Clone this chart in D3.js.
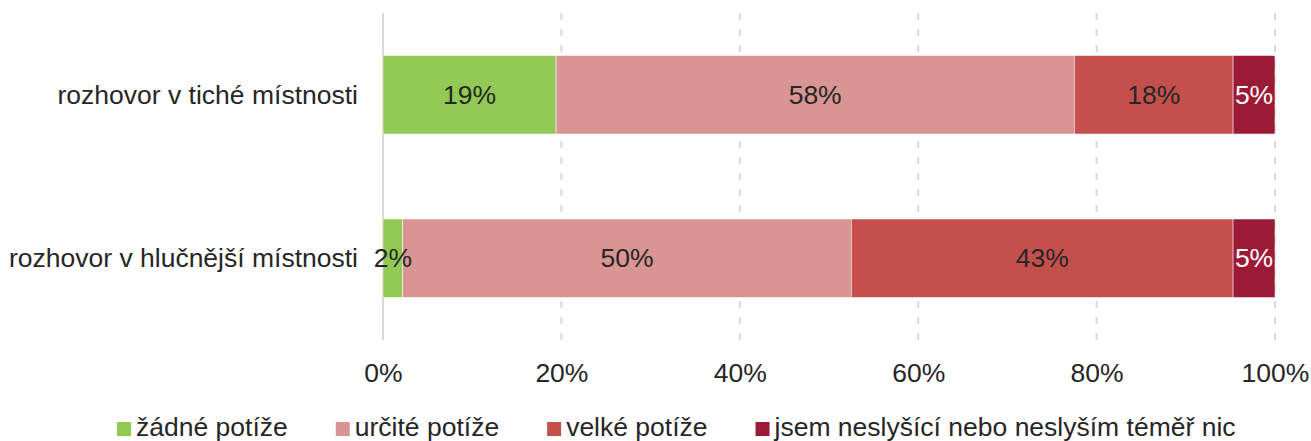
<!DOCTYPE html>
<html><head><meta charset="utf-8">
<script src="https://cdn.jsdelivr.net/npm/d3@7"></script>
<style>
body{margin:0;background:#fff;}
text{font-family:"Liberation Sans",Arial,sans-serif;fill:#262626;}
</style></head>
<body>
<svg id="c" width="1311" height="441"></svg>
<script>
const categories = ["rozhovor v tiché místnosti", "rozhovor v hlučnější místnosti"];
const seriesNames = ["žádné potíže", "určité potíže", "velké potíže", "jsem neslyšící nebo neslyším téměř nic"];
const seriesColors = ["#92C954", "#D99594", "#C4504E", "#9B1B36"];
const zadne = [19.4, 2.2];
const urcite = [58.1, 50.3];
const velke = [17.8, 42.8];
const neslysici = [4.7, 4.7];
const tickValues = [0, 20, 40, 60, 80, 100];

const FS = 26.5;
const series = [zadne, urcite, velke, neslysici];
const svg = d3.select("#c");
const x = d3.scaleLinear().domain([0, 100]).range([383, 1275]);
const y = d3.scaleBand().domain(categories).range([13, 340]).paddingInner(0.52).paddingOuter(0.26);

// gridlines
svg.append("g").selectAll("line").data(tickValues.slice(1)).join("line")
  .attr("x1", d => x(d)).attr("x2", d => x(d))
  .attr("y1", 13).attr("y2", 340)
  .attr("stroke", "#d9d9d9").attr("stroke-width", 2)
  .attr("stroke-dasharray", "7,9");
svg.append("line").attr("x1", x(0)).attr("x2", x(0)).attr("y1", 13).attr("y2", 340)
  .attr("stroke", "#d9d9d9").attr("stroke-width", 2);

// stacked data
const rows = categories.map((c, i) => {
  let acc = 0;
  return series.map((s, j) => { const v = s[i]; const r = {cat: c, j, v, x0: acc, x1: acc + v}; acc += v; return r; });
}).flat();

const g = svg.append("g");
g.selectAll("rect").data(rows).join("rect")
  .attr("x", d => x(d.x0)).attr("width", d => x(d.x1) - x(d.x0))
  .attr("y", d => y(d.cat)).attr("height", y.bandwidth())
  .attr("fill", d => seriesColors[d.j])
  .attr("stroke", "#fff").attr("stroke-width", 0.5);
g.selectAll("text").data(rows).join("text")
  .attr("x", d => (x(d.x0) + x(d.x1)) / 2)
  .attr("y", d => y(d.cat) + y.bandwidth() / 2 + 9)
  .attr("text-anchor", "middle").attr("font-size", FS)
  .style("fill", d => d.j === 3 ? "#fff" : "#262626")
  .text(d => Math.round(d.v) + "%");

// category labels
svg.append("g").selectAll("text").data(categories).join("text")
  .attr("x", 358).attr("y", d => y(d) + y.bandwidth() / 2 + 9)
  .attr("text-anchor", "end").attr("font-size", FS).text(d => d);

// x axis tick labels
const xAxis = d3.axisBottom(x).tickValues(tickValues).tickFormat(d => d + "%").tickSize(0).tickPadding(0);
const ax = svg.append("g").attr("transform", "translate(0,363)").call(xAxis);
ax.select(".domain").remove();
ax.selectAll("text").attr("font-size", FS).attr("dy", 0).attr("y", 19)
  .style("font-family", '"Liberation Sans",Arial,sans-serif').style("fill", "#262626");

// legend
const lg = svg.append("g");
let lx = 117;
seriesNames.forEach((n, i) => {
  lg.append("rect").attr("x", lx).attr("y", 422).attr("width", 14).attr("height", 14).attr("fill", seriesColors[i]);
  const t = lg.append("text").attr("x", lx + 19).attr("y", 435.5).attr("font-size", FS).text(n);
  lx += 19 + t.node().getComputedTextLength() + 48;
});
</script>
</body></html>
